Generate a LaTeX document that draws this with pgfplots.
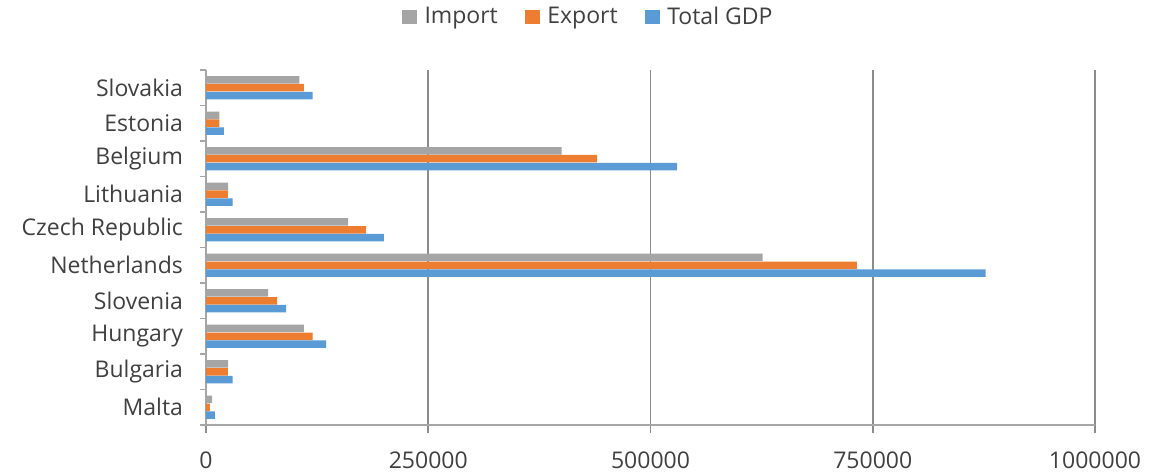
\documentclass[border=0pt]{standalone}
\usepackage{fontspec}
\setmainfont{Open Sans}
\usepackage{pgfplots}
\pgfplotsset{compat=1.18}
\definecolor{cImp}{HTML}{A5A5A5}
\definecolor{cExp}{HTML}{ED7D31}
\definecolor{cGdp}{HTML}{5B9BD5}
\definecolor{cTxt}{HTML}{404040}
\definecolor{cGrid}{HTML}{8C8C8C}
\definecolor{cAx}{HTML}{A6A6A6}
\begin{document}
\begin{tikzpicture}
\begin{axis}[
  name=ax,
  scale only axis,
  width=444.5pt, height=177.5pt,
  xbar,
  bar width=3.75pt,
  xmin=0, xmax=1000000,
  ymin=-0.5, ymax=9.5,
  axis lines*=left,
  axis line style={cAx, line width=0.8pt},
  xtick={0,250000,500000,750000,1000000},
  scaled x ticks=false,
  xticklabel style={/pgf/number format/fixed, /pgf/number format/1000 sep={}, /pgf/number format/assume math mode=true},
  xmajorgrids,
  major grid style={cGrid, line width=0.8pt},
  ytick={0,...,9},
  yticklabels={Malta,Bulgaria,Hungary,Slovenia,Netherlands,Czech Republic,Lithuania,Belgium,Estonia,Slovakia},
  minor ytick={-0.5,0.5,...,9.5},
  tick align=outside,
  major tick length=4pt,
  minor tick length=3pt,
  y tick style={draw=cAx, line width=0.8pt},
  every major y tick/.append style={draw=none},
  x tick style={draw=cGrid, line width=0.8pt},
  tick label style={font=\fontsize{11.5}{13}\selectfont, text=cTxt},
  yticklabel style={xshift=-4pt},
  xticklabel style={yshift=-6pt},
  legend style={at={(0.431,1.149)}, anchor=center, draw=none, legend columns=-1,
    font=\fontsize{11.5}{13}\selectfont, text=cTxt,
    /tikz/every odd column/.append style={column sep=1.8pt},
    /tikz/every even column/.append style={column sep=11.5pt}},
  legend image code/.code={\fill[#1] (0pt,-3.5pt) rectangle (7.5pt,3.5pt);},
]
\addplot[fill=cImp, draw=none, bar shift=3.9pt] coordinates {
(7000,0) (25000,1) (110000,2) (70000,3) (626000,4) (160000,5) (25000,6) (400000,7) (15000,8) (105000,9)};
\addplot[fill=cExp, draw=none, bar shift=0pt] coordinates {
(4500,0) (24500,1) (120000,2) (80000,3) (732000,4) (180000,5) (24500,6) (440000,7) (15000,8) (110000,9)};
\addplot[fill=cGdp, draw=none, bar shift=-3.9pt] coordinates {
(10000,0) (30000,1) (135000,2) (90000,3) (877000,4) (200000,5) (30000,6) (530000,7) (20000,8) (120000,9)};
\legend{Import,Export,Total GDP}
\end{axis}
\pgfresetboundingbox
\path (ax.south west)+(-103pt,-24pt) coordinate (bl);
\path (ax.north east)+(35pt,35pt) coordinate (tr);
\path (bl) rectangle (tr);
\end{tikzpicture}
\end{document}
